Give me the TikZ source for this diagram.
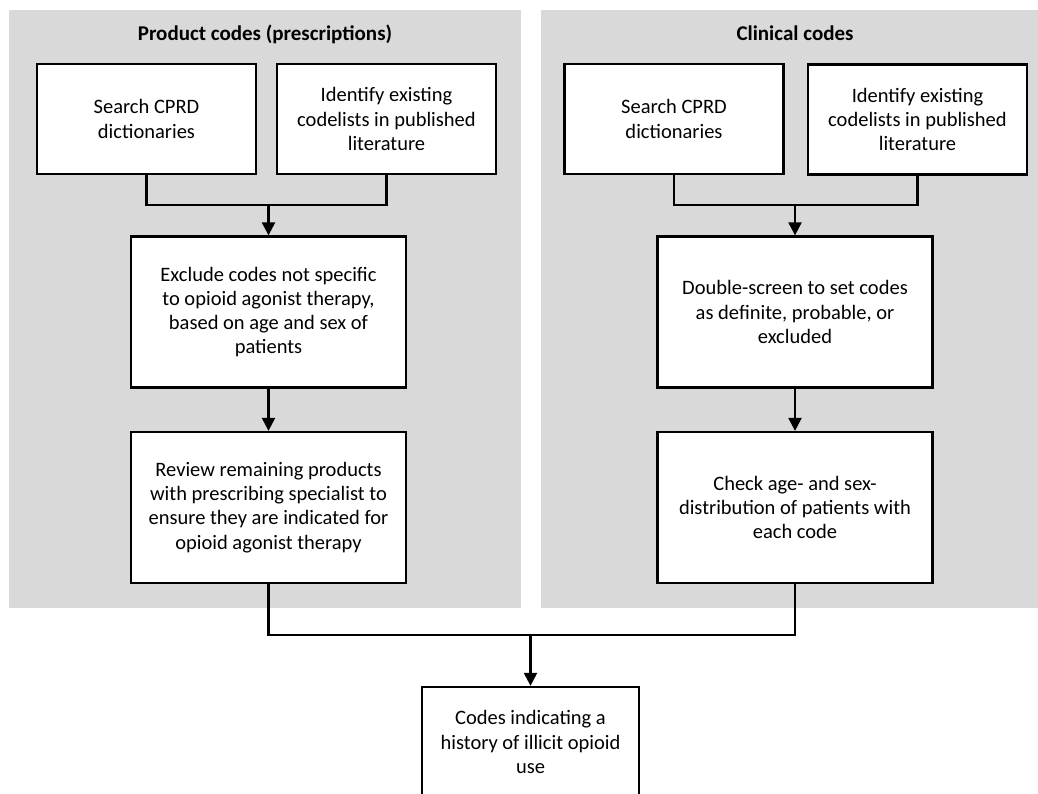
\documentclass[tikz,border=0pt]{standalone}
\usepackage{fontspec}
\setmainfont{Carlito}
\usetikzlibrary{arrows.meta}
\definecolor{panelgray}{HTML}{D9D9D9}
\tikzset{
  panel/.style={fill=panelgray, draw=none},
  box/.style={draw=black, fill=white, line width=2.3pt, align=center, inner sep=0pt,
    font=\fontsize{20.5}{24.2}\selectfont},
  small/.style={box, minimum width=219pt, minimum height=110pt},
  big/.style={box, minimum width=275pt, minimum height=151pt},
  title/.style={font=\fontsize{21}{24}\selectfont\bfseries, inner sep=0pt, anchor=base},
  conn/.style={line width=2.3pt},
  arr/.style={line width=2.3pt, -{Triangle[length=13pt,width=13pt]}}
}
\begin{document}
\begin{tikzpicture}[x=1pt,y=-1pt]
\path[use as bounding box, clip] (0,0) rectangle (1038,794);
% panels
\path[panel] (9,10) rectangle (521,608);
\path[panel] (541,10) rectangle (1050,608);
\node[title] (tL) at (265,41) {Product codes (prescriptions)};
\node[title] (tR) at (795,41) {Clinical codes};
% left column
\node[small] (b1L) at (146.5,119) {Search CPRD\\dictionaries};
\node[small] (b2L) at (386.5,119) {Identify existing\\codelists in published\\literature};
\node[big] (b3L) at (268.5,312) {Exclude codes not specific\\to opioid agonist therapy,\\based on age and sex of\\patients};
\node[big] (b4L) at (268.5,507.5) {Review remaining products\\with prescribing specialist to\\ensure they are indicated for\\opioid agonist therapy};
% right column
\node[small] (b1R) at (674,119) {Search CPRD\\dictionaries};
\node[small] (b2R) at (917.5,119.5) {Identify existing\\codelists in published\\literature};
\node[big] (b3R) at (795,312) {Double-screen to set codes\\as definite, probable, or\\excluded};
\node[big] (b4R) at (795,507.5) {Check age- and sex-\\distribution of patients with\\each code};
% final
\node[small, minimum width=217pt] (fin) at (530.5,742) {Codes indicating a\\history of illicit opioid\\use};
% junctions
\coordinate (jL) at (268.5,205);
\coordinate (jR) at (795,205);
\coordinate (jB) at (530.5,635);
% connectors
\draw[conn] (b1L.south) |- (jL) -| (b2L.south);
\draw[arr] (jL) -- (b3L.north);
\draw[arr] (b3L.south) -- (b4L.north);
\draw[conn] (b1R.south) |- (jR) -| (b2R.south);
\draw[arr] (jR) -- (b3R.north);
\draw[arr] (b3R.south) -- (b4R.north);
\draw[conn] (b4L.south) |- (jB) -| (b4R.south);
\draw[arr] (jB) -- (fin.north);
\end{tikzpicture}
\end{document}
